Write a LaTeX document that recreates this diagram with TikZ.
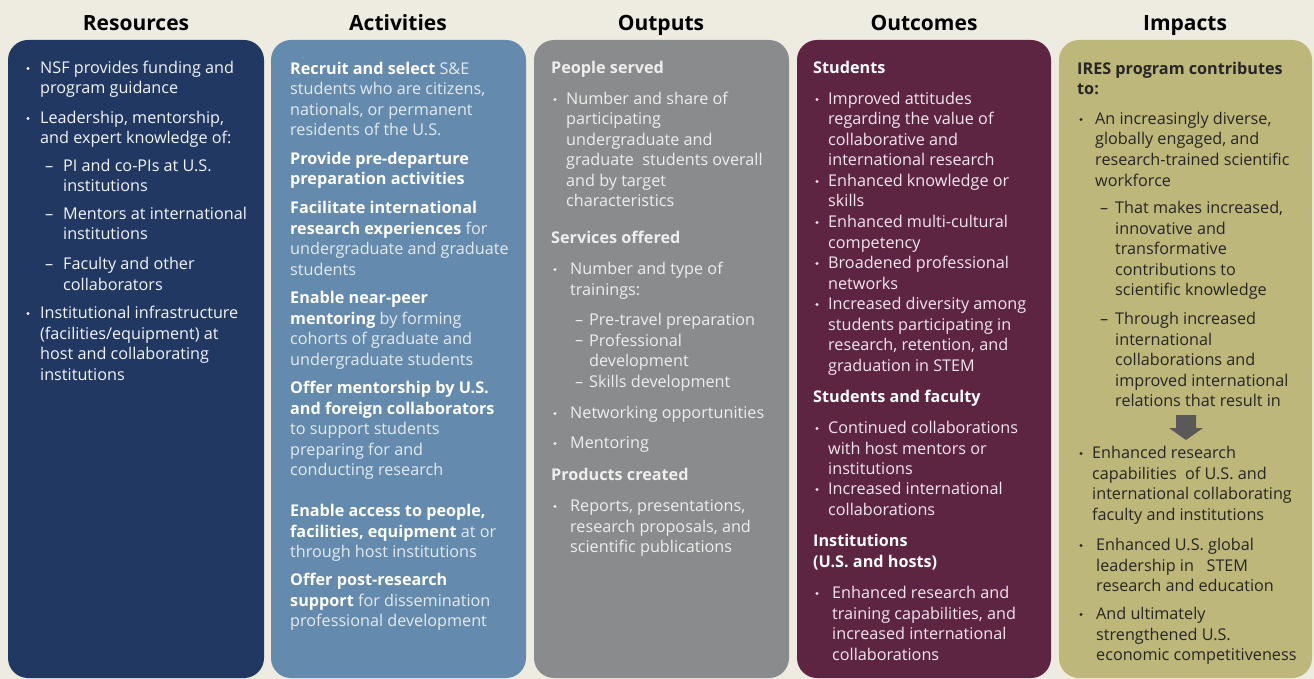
\documentclass[tikz,border=0pt]{standalone}
\usepackage{fontspec}
\setmainfont{Open Sans}
\definecolor{bg}{HTML}{EEEBE0}
\definecolor{cres}{HTML}{213863}
\definecolor{cact}{HTML}{648BAD}
\definecolor{cout}{HTML}{8A8B8D}
\definecolor{cotc}{HTML}{5E2543}
\definecolor{cimp}{HTML}{BDB77A}
\definecolor{tres}{HTML}{F2F4F7}
\definecolor{tact}{HTML}{E4EAF0}
\definecolor{tout}{HTML}{EEEEEE}
\definecolor{totc}{HTML}{F1E6EC}
\definecolor{timp}{HTML}{262626}
\definecolor{arr}{HTML}{595959}
\newcommand\hbx[1]{\textbf{\color{white}#1}}
\newcommand\lns[5]{%
  \foreach \myline [count=\i from 0] in {#5}{%
    \node[txt,text=#2] (#1\i) at ({#3},{#4+20.5*\i}) {\myline};}}
\newcommand\bul[3]{\fill[#1] ({#2},{#3-5}) circle (1.6);}
\tikzset{
  colbox/.style={rounded corners=20pt},
  ttl/.style={font=\fontsize{21}{24}\selectfont\bfseries, anchor=base, inner sep=0, text=black},
  txt/.style={font=\fontsize{16.2}{19}\selectfont, anchor=base west, inner sep=0},
  hd/.style={txt,font=\fontsize{16.2}{19}\selectfont\bfseries},
}
\begin{document}
\begin{tikzpicture}[x=1pt,y=-1pt]
\useasboundingbox (0,0) rectangle (1314,679);
\fill[bg] (0,0) rectangle (1314,679);
% boxes
\fill[cres,colbox] (8,40) rectangle (264,678);
\fill[cact,colbox] (271,40) rectangle (526,678);
\fill[cout,colbox] (534,40) rectangle (789,678);
\fill[cotc,colbox] (797,40) rectangle (1051,678);
\fill[cimp,colbox] (1059,40) rectangle (1312,678);
% titles
\node[ttl] (t1) at (136,31) {Resources};
\node[ttl] (t2) at (398,31) {Activities};
\node[ttl] (t3) at (661,31) {Outputs};
\node[ttl] (t4) at (924,31) {Outcomes};
\node[ttl] (t5) at (1185,31) {Impacts};
\begin{scope}[yshift=-1.5pt]
% Resources
\bul{tres}{28}{72}
\lns{ra}{tres}{40}{72}{{NSF provides funding and},{program guidance}}
\bul{tres}{28}{122}
\lns{rb}{tres}{40}{122}{{Leadership, mentorship,},{and expert knowledge of:}}
\node[txt,text=tres] (rd1) at (45,170) {–};
\lns{rc}{tres}{63}{170}{{PI and co-PIs at U.S.},{institutions}}
\node[txt,text=tres] (rd2) at (45,218) {–};
\lns{rd}{tres}{63}{218}{{Mentors at international},{institutions}}
\node[txt,text=tres] (rd3) at (45,268) {–};
\lns{re}{tres}{63}{268}{{Faculty and other},{collaborators}}
\bul{tres}{28}{317}
\lns{rf}{tres}{40}{317}{{Institutional infrastructure},{(facilities/equipment) at},{host and collaborating},{institutions}}
% Activities
\lns{aa}{tact}{290}{73}{{\hbx{Recruit and select} S\&E},{students who are citizens,},{nationals, or permanent},{residents of the U.S.}}
\lns{ab}{tact}{290}{163}{{\hbx{Provide pre-departure}},{\hbx{preparation activities}}}
\lns{ac}{tact}{290}{212}{{\hbx{Facilitate international}},{\hbx{research experiences} for},{undergraduate and graduate},{students}}
\lns{ad}{tact}{290}{302}{{\hbx{Enable near-peer}},{\hbx{mentoring} by forming},{cohorts of graduate and},{undergraduate students}}
\lns{ae}{tact}{290}{392}{{\hbx{Offer mentorship by U.S.}},{\hbx{and foreign collaborators}},{to support students},{preparing for and},{conducting research}}
\lns{af}{tact}{290}{515}{{\hbx{Enable access to people,}},{\hbx{facilities, equipment} at or},{through host institutions}}
\lns{ag}{tact}{290}{584}{{\hbx{Offer post-research}},{\hbx{support} for dissemination},{professional development}}
% Outputs
\node[hd,text=tout] (oh1) at (551,72) {People served};
\bul{tout}{555}{103}
\lns{oa}{tout}{566}{103}{{Number and share of},{participating},{undergraduate and},{graduate\ \ students overall},{and by target},{characteristics}}
\node[hd,text=tout] (oh2) at (551,242) {Services offered};
\bul{tout}{555}{273}
\lns{ob}{tout}{570}{273}{{Number and type of},{trainings:}}
\node[txt,text=tout] (od1) at (575,324) {–};
\node[txt,text=tout] (od2) at (575,344) {–};
\node[txt,text=tout] (od3) at (575,386) {–};
\lns{oc}{tout}{589}{324}{{Pre-travel preparation},{Professional},{development},{Skills development}}
\bul{tout}{555}{417}
\node[txt,text=tout] (od) at (570,417) {Networking opportunities};
\bul{tout}{555}{447}
\node[txt,text=tout] (oe) at (570,447) {Mentoring};
\node[hd,text=tout] (oh3) at (551,479) {Products created};
\bul{tout}{555}{510}
\lns{of}{tout}{570}{510}{{Reports, presentations,},{research proposals, and},{scientific publications}}
% Outcomes
\node[hd,text=white] (ch1) at (813,72) {Students};
\bul{totc}{817}{103}
\lns{ca}{totc}{828}{103}{{Improved attitudes},{regarding the value of},{collaborative and},{international research}}
\bul{totc}{817}{185}
\lns{cb}{totc}{828}{185}{{Enhanced knowledge or},{skills}}
\bul{totc}{817}{226}
\lns{cc}{totc}{828}{226}{{Enhanced multi-cultural},{competency}}
\bul{totc}{817}{267}
\lns{cd}{totc}{828}{267}{{Broadened professional},{networks}}
\bul{totc}{817}{308}
\lns{ce}{totc}{828}{308}{{Increased diversity among},{students participating in},{research, retention, and},{graduation in STEM}}
\node[hd,text=white] (ch2) at (813,401) {Students and faculty};
\bul{totc}{817}{432}
\lns{cf}{totc}{828}{432}{{Continued collaborations},{with host mentors or},{institutions}}
\bul{totc}{817}{493}
\lns{cg}{totc}{828}{493}{{Increased international},{collaborations}}
\lns{ch}{white}{813}{545}{{\textbf{Institutions}},{\textbf{(U.S. and hosts)}}}
\bul{totc}{817}{597}
\lns{ci}{totc}{832}{597}{{Enhanced research and},{training capabilities, and},{increased international},{collaborations}}
% Impacts
\lns{ia}{timp}{1077}{73}{{\textbf{IRES program contributes}},{\textbf{to:}}}
\bul{timp}{1081}{123}
\lns{ib}{timp}{1095}{123}{{An increasingly diverse,},{globally engaged, and},{research-trained scientific},{workforce}}
\node[txt,text=timp] (id1) at (1100,212) {–};
\lns{ic}{timp}{1115}{212}{{That makes increased,},{innovative and},{transformative},{contributions to},{scientific knowledge}}
\node[txt,text=timp] (id2) at (1100,323) {–};
\lns{id}{timp}{1115}{323}{{Through increased},{international},{collaborations and},{improved international},{relations that result in}}
\bul{timp}{1081}{457}
\lns{ie}{timp}{1092}{457}{{Enhanced research},{capabilities\ \ of U.S. and},{international collaborating},{faculty and institutions}}
\bul{timp}{1081}{549}
\lns{if}{timp}{1096}{549}{{Enhanced U.S. global},{leadership in\ \ \ STEM},{research and education}}
\bul{timp}{1081}{618}
\lns{ig}{timp}{1096}{618}{{And ultimately},{strengthened U.S.},{economic competitiveness}}
\end{scope}
\fill[arr] (1176,415) -- (1196,415) -- (1196,428) -- (1203,428) -- (1186,440) -- (1169,428) -- (1176,428) -- cycle;
\end{tikzpicture}
\end{document}
